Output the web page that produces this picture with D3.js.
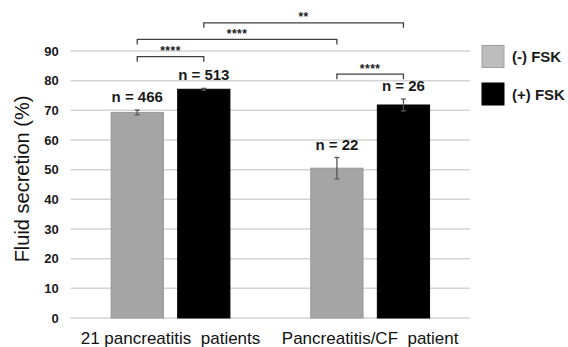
<!DOCTYPE html>
<html>
<head>
<meta charset="utf-8">
<script src="https://cdn.jsdelivr.net/npm/d3@7"></script>
<style>
  html, body { margin: 0; padding: 0; background: #fff; }
  svg { display: block; font-family: "Liberation Sans", Arial, sans-serif; }
</style>
</head>
<body>
<svg id="chart" width="568" height="347"></svg>
<script>
// Groups and treatment series
const groups = ["21 pancreatitis  patients", "Pancreatitis/CF  patient"];
const seriesKeys = ["neg", "pos"];
const seriesNames = ["(-) FSK", "(+) FSK"];
const negMeans = [69.3, 50.5];
const posMeans = [77.1, 71.8];
const negErrors = [0.8, 3.6];
const posErrors = [0.3, 2.0];
const negCounts = ["n = 466", "n = 22"];
const posCounts = ["n = 513", "n = 26"];
const yTicks = [0, 10, 20, 30, 40, 50, 60, 70, 80, 90];

// Significance comparisons: [group, series] pairs, label, bracket height (value units)
const compFrom = [[0, "neg"], [0, "neg"], [0, "pos"], [1, "neg"]];
const compTo = [[0, "pos"], [1, "neg"], [1, "pos"], [1, "pos"]];
const compLabels = ["****", "****", "**", "****"];
const compHeights = [88.1, 93.9, 99.5, 82.2];

const svg = d3.select("#chart");
const plotLeft = 70.7, plotRight = 470, plotTop = 51, plotBottom = 318;

const y = d3.scaleLinear().domain([0, 90]).range([plotBottom, plotTop]);
const x0 = d3.scaleBand().domain(groups).range([plotLeft, plotRight]).padding(0);
const x1 = d3.scaleBand().domain(seriesKeys).range([0, x0.bandwidth()])
  .paddingInner(0.2).paddingOuter(0.6);
const fills = { neg: "#a5a5a5", pos: "#000000" };
const strokes = { neg: "#969696", pos: "#000000" };

// Gridlines
svg.append("g").selectAll("line").data(yTicks).join("line")
  .attr("x1", plotLeft).attr("x2", plotRight)
  .attr("y1", d => y(d)).attr("y2", d => y(d))
  .attr("stroke", "#d3d3d3").attr("stroke-width", 1.5);

// Y axis labels
const yAxis = svg.append("g").attr("transform", `translate(${plotLeft},0)`)
  .call(d3.axisLeft(y).tickValues(yTicks).tickSize(0).tickPadding(12));
yAxis.select(".domain").remove();
yAxis.selectAll("text").attr("font-size", 13).attr("font-weight", "bold")
  .attr("fill", "#1a1a1a").attr("font-family", "Liberation Sans, Arial, sans-serif");

// Y axis title
svg.append("text")
  .attr("transform", "translate(29,179) rotate(-90)")
  .attr("text-anchor", "middle")
  .attr("font-size", 20).attr("fill", "#111")
  .text("Fluid secretion (%)");

// Bar records
const rows = [];
groups.forEach((g, i) => {
  rows.push({ g, i, key: "neg", mean: negMeans[i], err: negErrors[i], n: negCounts[i] });
  rows.push({ g, i, key: "pos", mean: posMeans[i], err: posErrors[i], n: posCounts[i] });
});
const cx = (i, key) => x0(groups[i]) + x1(key) + x1.bandwidth() / 2;

// Bars
svg.append("g").selectAll("rect").data(rows).join("rect")
  .attr("x", d => x0(d.g) + x1(d.key) + 0.5)
  .attr("y", d => y(d.mean))
  .attr("width", x1.bandwidth() - 1)
  .attr("height", d => y(0) - y(d.mean))
  .attr("fill", d => fills[d.key])
  .attr("stroke", d => strokes[d.key]).attr("stroke-width", 1);

// Error bars
const eb = svg.append("g").attr("stroke", "#555").attr("stroke-width", 1.3);
rows.forEach(d => {
  const c = cx(d.i, d.key);
  eb.append("line").attr("x1", c).attr("x2", c)
    .attr("y1", y(d.mean + d.err)).attr("y2", y(d.mean - d.err));
  [d.mean + d.err, d.mean - d.err].forEach(v => {
    eb.append("line").attr("x1", c - 2.5).attr("x2", c + 2.5)
      .attr("y1", y(v)).attr("y2", y(v));
  });
});

// Count labels
svg.append("g").selectAll("text").data(rows).join("text")
  .attr("x", d => cx(d.i, d.key))
  .attr("y", d => y(d.mean + d.err) - 8)
  .attr("text-anchor", "middle")
  .attr("font-size", 15).attr("font-weight", "bold").attr("fill", "#1a1a1a")
  .text(d => d.n);

// Significance brackets
const br = svg.append("g");
compLabels.forEach((lab, k) => {
  const xa = cx(compFrom[k][0], compFrom[k][1]);
  const xb = cx(compTo[k][0], compTo[k][1]);
  const yy = y(compHeights[k]);
  br.append("path")
    .attr("d", `M${xa},${yy + 5}V${yy}H${xb}V${yy + 5}`)
    .attr("fill", "none").attr("stroke", "#404040").attr("stroke-width", 1.3);
  br.append("text")
    .attr("x", (xa + xb) / 2).attr("y", yy - 1.5)
    .attr("text-anchor", "middle")
    .attr("font-size", 12).attr("font-weight", "bold")
    .attr("letter-spacing", 0.5).attr("fill", "#222")
    .text(lab);
});

// X category labels
svg.append("g").selectAll("text").data(groups).join("text")
  .attr("x", d => x0(d) + x0.bandwidth() / 2)
  .attr("y", 344)
  .attr("text-anchor", "middle")
  .attr("font-size", 17).attr("fill", "#111")
  .style("white-space", "pre")
  .text(d => d);

// Legend
const legFill = { neg: "#bdbdbd", pos: "#000" };
const legStroke = { neg: "#a0a0a0", pos: "#000" };
const leg = svg.append("g");
seriesKeys.forEach((k, i) => {
  const ly = 45.5 + i * 37.5;
  leg.append("rect").attr("x", 482).attr("y", ly).attr("width", 22).attr("height", 22)
    .attr("fill", legFill[k]).attr("stroke", legStroke[k]).attr("stroke-width", 1);
  leg.append("text").attr("x", 512).attr("y", ly + 16.5)
    .attr("font-size", 15).attr("font-weight", "bold").attr("fill", "#1a1a1a")
    .text(seriesNames[i]);
});
</script>
</body>
</html>
